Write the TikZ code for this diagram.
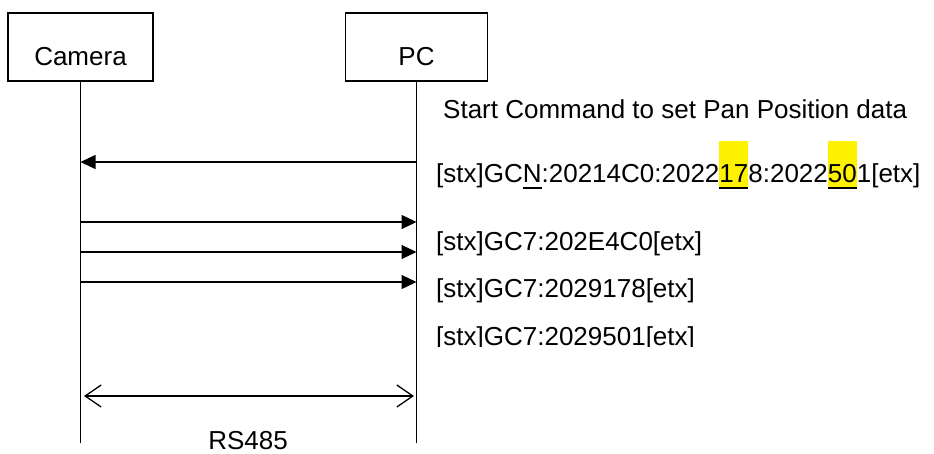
\documentclass[tikz,border=0pt]{standalone}
\usepackage{fontspec}
\setmainfont{Liberation Sans}
\usetikzlibrary{arrows.meta}
\newsavebox\ulbox
\newsavebox\hlbox
\newcommand\ulin[1]{\sbox\ulbox{#1}\rlap{\rule[-6.5pt]{\wd\ulbox}{1.5pt}}\usebox\ulbox}
\newcommand\hlt[1]{\sbox\hlbox{#1}\rlap{\textcolor{yellow}{\rule[-6pt]{\wd\hlbox}{47pt}}}\usebox\hlbox}
\begin{document}
\begin{tikzpicture}[x=1pt,y=1pt,
  every node/.style={font=\fontsize{26}{30}\selectfont},
  actor/.style={draw,line width=1.3pt,minimum height=68pt,inner sep=0pt,text height=36pt,text depth=0pt},
  life/.style={line width=1.3pt},
  msg/.style={line width=1.3pt,-{Triangle[length=15pt,width=14pt]}},
  bus/.style={line width=1.3pt,{Straight Barb[length=16pt,width=22pt,line width=1.3pt]}-{Straight Barb[length=16pt,width=22pt,line width=1.3pt]}},
  lbl/.style={anchor=base west,inner sep=0pt}]
\useasboundingbox[fill=white] (0,0) rectangle (934,-453);
% actors
\node[actor,minimum width=145pt] (cam) at (80.5,-47) {Camera};
\node[actor,minimum width=142pt] (pc) at (416.5,-47) {PC};
% lifelines
\coordinate (camend) at (cam.south |- 0,-443);
\coordinate (pcend) at (pc.south |- 0,-443);
\draw[life] (cam.south) -- (camend);
\draw[life] (pc.south) -- (pcend);
% message ends
\coordinate (m1p) at (pc.south |- 0,-162);
\coordinate (m1c) at (cam.south |- 0,-162);
\coordinate (m2c) at (cam.south |- 0,-222);
\coordinate (m2p) at (pc.south |- 0,-222);
\coordinate (m3c) at (cam.south |- 0,-252);
\coordinate (m3p) at (pc.south |- 0,-252);
\coordinate (m4c) at (cam.south |- 0,-282);
\coordinate (m4p) at (pc.south |- 0,-282);
\coordinate (bc) at (84,-396);
\coordinate (bp) at (414,-396);
\draw[msg] (m1p) -- (m1c);
\draw[msg] (m2c) -- (m2p);
\draw[msg] (m3c) -- (m3p);
\draw[msg] (m4c) -- (m4p);
\draw[bus] (bc) -- (bp);
% labels
\node[lbl] (t0) at (443,-118) {Start Command to set Pan Position data};
\node[lbl] (t1) at (436,-182) {[stx]GC\ulin{N}:20214C0:2022\hlt{\ulin{17}}8:2022\hlt{\ulin{50}}1[etx]};
\node[lbl] (t2) at (436,-250) {[stx]GC7:202E4C0[etx]};
\node[lbl] (t3) at (436,-297) {[stx]GC7:2029178[etx]};
\begin{scope}
\clip (430,-300) rectangle (934,-346);
\node[lbl] (t4) at (436,-345) {[stx]GC7:2029501[etx]};
\end{scope}
\node[anchor=base,inner sep=0pt] (rs) at (248,-449) {RS485};
\end{tikzpicture}
\end{document}
